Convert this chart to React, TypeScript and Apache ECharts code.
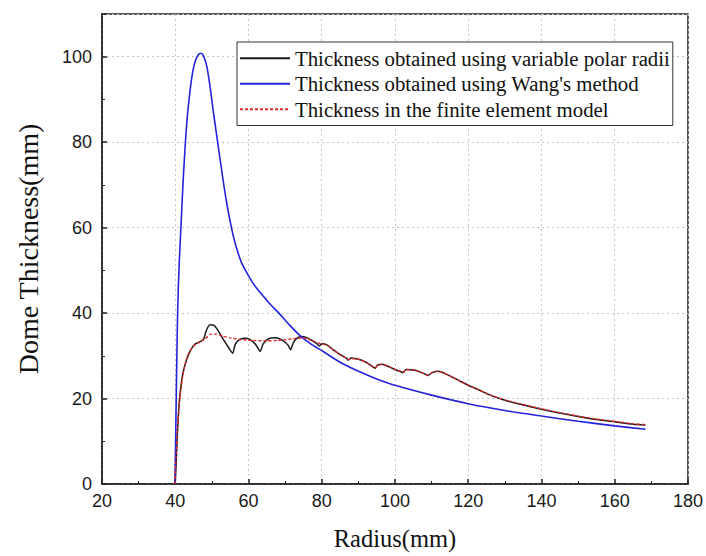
import React, { useEffect, useRef } from "react";
import * as echarts from "echarts";

// Radius (mm) and thickness (mm)
const blackR = [40, 40.3, 40.6, 41, 41.5, 42, 42.7, 43.5, 44.5, 45.5, 46.8, 47.8, 48.5, 49.5, 50.5, 51.5, 53, 54.5, 55.7, 56.3, 57.3, 59, 60.5, 62, 63.2, 64, 65.5, 67.5, 69.5, 70.8, 71.5, 72.2, 73.2, 74.5, 76, 77.5, 78.6, 79.3, 80, 81.5, 83, 85, 86.8, 87.2, 88, 90.5, 92.5, 94.6, 95.2, 96.5, 98.5, 100, 102.3, 103, 105.5, 108, 109, 110, 111.5, 113, 115, 117.5, 120, 123, 126, 130, 134, 140, 145, 150, 155, 160.4, 165, 168.4];
const blackT = [0, 6, 12, 18, 22.5, 25.5, 28, 30, 31.8, 32.8, 33.3, 34, 36, 37.3, 37.2, 36.2, 34, 32, 30.6, 32.5, 33.7, 34.1, 33.8, 32.6, 31, 32.8, 34, 34.2, 33.5, 32.5, 31.4, 33, 34.1, 34.5, 34.2, 33.5, 32.9, 32.3, 32.8, 32.5, 31.5, 30.3, 29.4, 29, 29.5, 29.1, 28.3, 27.1, 27.8, 28, 27.4, 26.8, 26.1, 26.8, 26.6, 25.8, 25.4, 26, 26.4, 26.1, 25.3, 24.2, 23.1, 22, 20.8, 19.6, 18.7, 17.5, 16.6, 15.8, 15.1, 14.5, 14, 13.8];

const blueR = [39.9, 40.1, 40.3, 40.5, 40.7, 41.1, 41.6, 42.1, 42.7, 43.3, 43.9, 44.5, 45.2, 46, 46.9, 47.7, 48.6, 49.5, 50.5, 51.5, 53, 54, 55.1, 56, 57, 58, 59.3, 61, 62.5, 64.5, 66, 68.3, 71, 74, 77, 80.4, 85, 90.5, 95, 100, 110, 120, 130, 140, 150, 160, 168.4];
const blueT = [0, 10, 22, 33, 42, 52, 61, 70, 79, 86, 91, 95, 98.2, 100.1, 100.8, 100.2, 97.8, 93, 86.5, 80.5, 71.5, 66, 61, 57.5, 54.5, 52, 49.8, 47.3, 45.5, 43.5, 42, 40, 37.4, 34.8, 32.8, 31, 28.5, 26.2, 24.6, 23.1, 20.8, 18.8, 17.2, 15.9, 14.7, 13.6, 12.8];

const redR = [39.9, 40.2, 40.6, 41, 41.3, 42, 42.7, 43.5, 44.9, 46.8, 48.1, 49.5, 51, 53, 55, 58, 61, 64, 68, 72, 75, 77.5, 79.5, 81.5, 83, 85, 86.8, 87.2, 88, 90.5, 92.5, 94.6, 95.2, 96.5, 98.5, 100, 102.3, 103, 105.5, 108, 109, 110, 111.5, 113, 115, 117.5, 120, 123, 126, 130, 134, 140, 145, 150, 155, 160.4, 165, 168.4];
const redT = [0, 6, 13, 18, 20.5, 25, 28, 30.3, 32.2, 33.3, 33.9, 35, 35.1, 34.6, 34.2, 33.8, 33.6, 33.5, 33.6, 34, 34.2, 33.5, 32.9, 32.5, 31.5, 30.3, 29.4, 29.1, 29.4, 29.1, 28.3, 27.2, 27.7, 28, 27.4, 26.8, 26.2, 26.8, 26.6, 25.8, 25.5, 26, 26.4, 26.1, 25.3, 24.2, 23.1, 22, 20.8, 19.7, 18.8, 17.6, 16.7, 15.9, 15.2, 14.6, 14.1, 13.9];

const seriesNames = [
  "Thickness obtained using variable polar radii",
  "Thickness obtained using Wang's method",
  "Thickness in the finite element model",
];

const xTicks = [20, 40, 60, 80, 100, 120, 140, 160, 180];
const yTicks = [0, 20, 40, 60, 80, 100];

const pairs = (xs: number[], ys: number[]) => xs.map((x, i) => [x, ys[i]]);

export default function App() {
  const ref = useRef<HTMLDivElement>(null);
  useEffect(() => {
    if (!ref.current) return;
    const chart = echarts.init(ref.current, undefined, { renderer: "svg" });
    const axisCommon = {
      axisLine: { show: true, lineStyle: { color: "#222", width: 1.5 } },
      axisTick: { show: true, inside: true, length: 5, lineStyle: { color: "#222", width: 1.5 } },
      minorTick: { show: true, splitNumber: 2, length: 3, lineStyle: { color: "#222", width: 1 } },
      splitLine: { show: true, lineStyle: { color: "#c4c4c4", width: 1, type: [2, 3] } },
      axisLabel: { color: "#1a1a1a", fontSize: 18, fontFamily: "Liberation Sans" },
      nameTextStyle: { color: "#111", fontFamily: "Liberation Serif" },
    };
    chart.setOption({
      animation: false,
      backgroundColor: "#fff",
      grid: {
        left: 102,
        right: 17,
        top: 14,
        bottom: 68,
        show: true,
        borderColor: "#222",
        borderWidth: 1.5,
        backgroundColor: "transparent",
      },
      xAxis: {
        type: "value",
        min: xTicks[0],
        max: xTicks[xTicks.length - 1],
        interval: 20,
        ...axisCommon,
        axisLabel: { ...axisCommon.axisLabel, margin: 8 },
        name: "Radius(mm)",
        nameLocation: "middle",
        nameGap: 42,
        nameTextStyle: { ...axisCommon.nameTextStyle, fontSize: 24.5 },
      },
      yAxis: {
        type: "value",
        min: yTicks[0],
        max: 110,
        interval: 20,
        ...axisCommon,
        axisLabel: { ...axisCommon.axisLabel, margin: 10, showMaxLabel: false },
        name: "Dome Thickness(mm)",
        nameLocation: "middle",
        nameGap: 60,
        nameTextStyle: { ...axisCommon.nameTextStyle, fontSize: 28 },
      },
      legend: {
        orient: "vertical",
        left: 237,
        top: 42,
        backgroundColor: "#fff",
        borderColor: "#333",
        borderWidth: 1,
        padding: [5, 3, 5, 2],
        itemWidth: 50,
        itemHeight: 14,
        itemGap: 3,
        itemStyle: { opacity: 0 },
        textStyle: { color: "#111", fontSize: 20.8, fontFamily: "Liberation Serif", lineHeight: 22.5 },
        data: seriesNames,
      },
      series: [
        {
          name: seriesNames[0],
          type: "line",
          data: pairs(blackR, blackT),
          showSymbol: false,
          symbol: "none",
          smooth: 0.2,
          lineStyle: { color: "#1a1a1a", width: 1.5 },
          itemStyle: { color: "#1a1a1a" },
          z: 2,
        },
        {
          name: seriesNames[1],
          type: "line",
          data: pairs(blueR, blueT),
          showSymbol: false,
          symbol: "none",
          smooth: 0.3,
          lineStyle: { color: "#2323dc", width: 1.6 },
          itemStyle: { color: "#2323dc" },
          z: 3,
        },
        {
          name: seriesNames[2],
          type: "line",
          data: pairs(redR, redT),
          showSymbol: false,
          symbol: "none",
          smooth: 0.2,
          lineStyle: { color: "#e32626", width: 1.4, type: [3, 2] },
          itemStyle: { color: "#e32626" },
          z: 4,
        },
      ],
    });
    return () => chart.dispose();
  }, []);
  return <div ref={ref} style={{ width: 706, height: 556, position: "absolute", left: 0, top: 0 }} />;
}
